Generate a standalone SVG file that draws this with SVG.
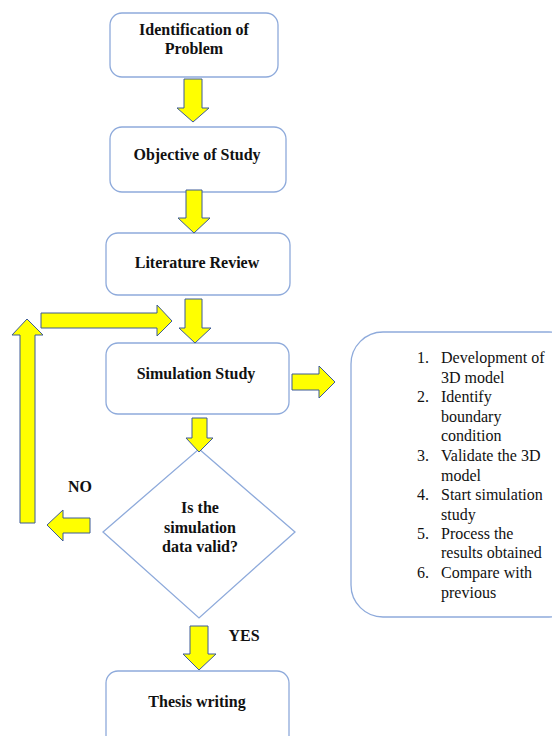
<svg xmlns="http://www.w3.org/2000/svg" width="552" height="736" viewBox="0 0 552 736">
<style>
.box{fill:#fff;stroke:#8eaadb;stroke-width:1.3}
.arr{fill:#ffff00;stroke:#3c5a96;stroke-width:1}
.t{font-family:'Liberation Serif','Times New Roman','DejaVu Serif',serif;font-size:16px;font-weight:bold;fill:#111;text-anchor:middle}
.l{font-family:'Liberation Serif','Times New Roman','DejaVu Serif',serif;font-size:16px;fill:#111}
</style>
<rect width="552" height="736" fill="#fff"/>
<g id="n1"><rect class="box" x="110" y="13" width="168" height="64" rx="12"/>
<text class="t" x="194" y="35">Identification of</text><text class="t" x="194" y="54">Problem</text></g>
<g id="n2"><rect class="box" x="110" y="127" width="176" height="65" rx="12"/>
<text class="t" x="197" y="160">Objective of Study</text></g>
<g id="n3"><rect class="box" x="106" y="233" width="184" height="62" rx="12"/>
<text class="t" x="197" y="268">Literature Review</text></g>
<g id="n4"><rect class="box" x="106" y="343" width="183" height="71" rx="12"/>
<text class="t" x="196" y="379">Simulation Study</text></g>
<g id="n5"><polygon class="box" points="199,449 295,532 199,618 103,532"/>
<text class="t" x="200" y="513">Is the</text><text class="t" x="200" y="533">simulation</text><text class="t" x="200" y="552">data valid?</text></g>
<g id="n6"><rect class="box" x="106" y="671" width="183" height="80" rx="12"/>
<text class="t" x="197" y="707">Thesis writing</text></g>
<g id="n7"><rect class="box" x="351" y="332" width="230" height="285" rx="32"/>
<g class="l">
<text x="417" y="363">1.</text><text x="441" y="363">Development of</text>
<text x="441" y="383">3D model</text>
<text x="417" y="402">2.</text><text x="441" y="402">Identify</text>
<text x="441" y="422">boundary</text>
<text x="441" y="441">condition</text>
<text x="417" y="461">3.</text><text x="441" y="461">Validate the 3D</text>
<text x="441" y="481">model</text>
<text x="417" y="500">4.</text><text x="441" y="500">Start simulation</text>
<text x="441" y="520">study</text>
<text x="417" y="539">5.</text><text x="441" y="539">Process the</text>
<text x="441" y="558">results obtained</text>
<text x="417" y="578">6.</text><text x="441" y="578">Compare with</text>
<text x="441" y="598">previous</text>
</g></g>
<g id="connectors">
<polygon class="arr" points="184,79 202,79 202,108 209,108 193,122 177,108 184,108"/>
<polygon class="arr" points="186,190 202,190 202,218 210,218 194,233 178,218 186,218"/>
<polygon class="arr" points="185,299 202,299 202,328 211,328 195,343 179,328 185,328"/>
<polygon class="arr" points="41,313 157,313 157,305 172,321 157,336 157,328 41,328"/>
<polygon class="arr" points="20,523 35,523 35,335 43,335 27,319 12,335 20,335"/>
<polygon class="arr" points="90,518 90,533 63,533 63,541 47,525 63,510 63,518"/>
<polygon class="arr" points="292,374 319,374 319,366 335,382 319,398 319,390 292,390"/>
<polygon class="arr" points="192,418 207,418 207,438 213,438 199,452 186,438 192,438"/>
<polygon class="arr" points="190,626 208,626 208,654 216,654 199,670 183,654 190,654"/>
</g>
<text class="t" x="80" y="492">NO</text>
<text class="t" x="244" y="641">YES</text>
</svg>
